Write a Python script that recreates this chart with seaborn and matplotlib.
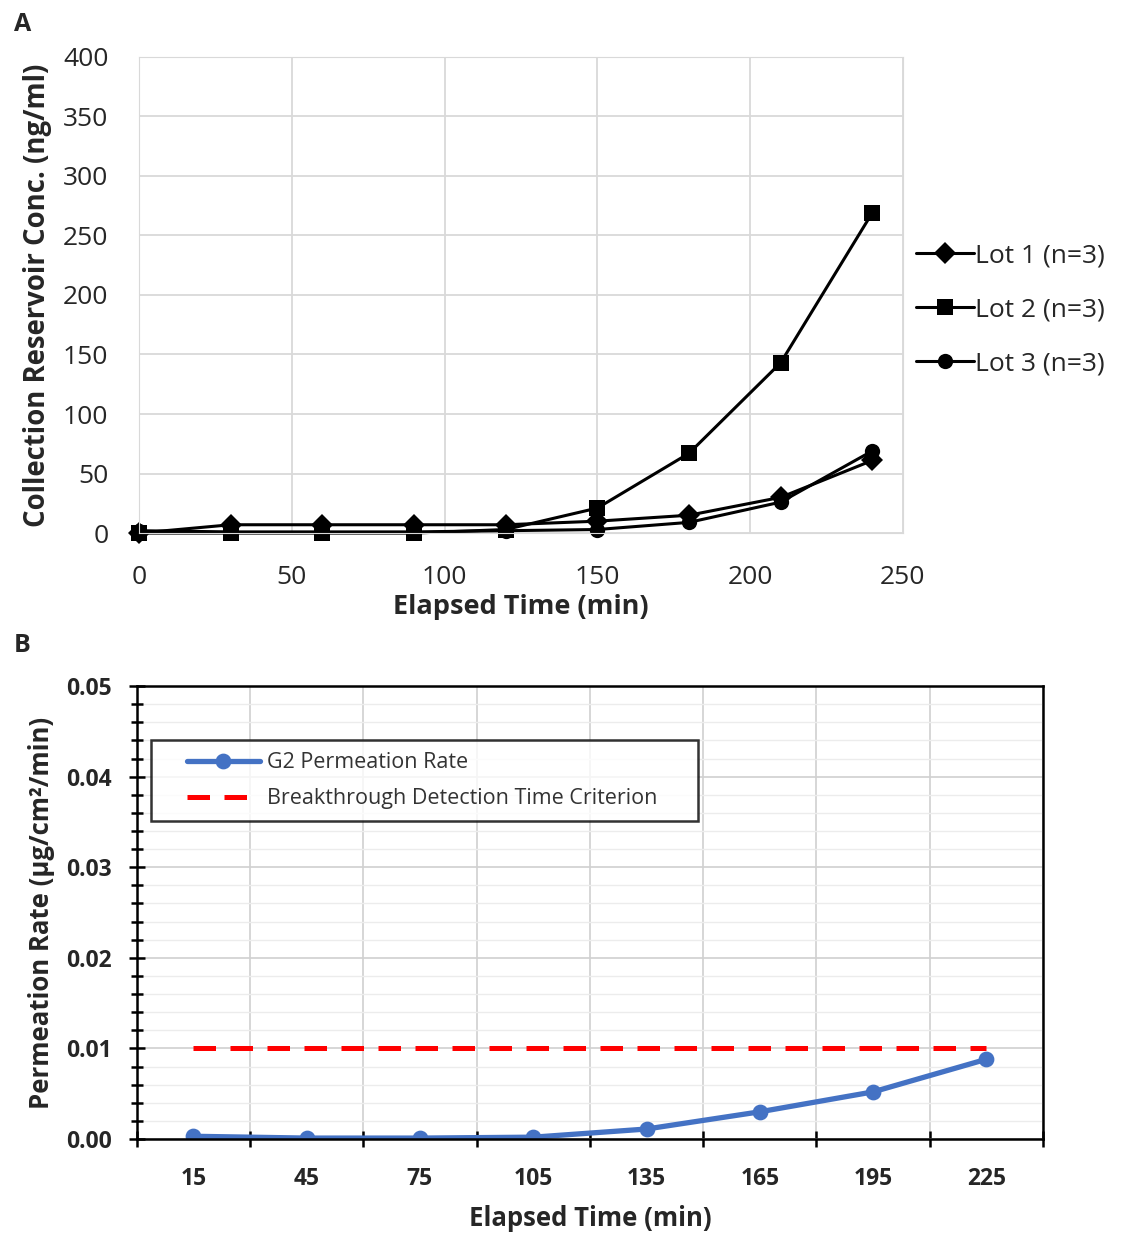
import seaborn as sns
import pandas as pd
import matplotlib.pyplot as plt
from matplotlib.ticker import MultipleLocator
from matplotlib.legend_handler import HandlerLine2D

# panel A data
time_a = [0, 30, 60, 90, 120, 150, 180, 210, 240]
lot1 = [0, 7, 7, 7, 7, 10, 15, 30, 61]
lot2 = [0, 0, 0, 0, 3, 21, 67, 143, 269]
lot3 = [2, 1, 1, 1, 2, 3, 9, 26, 69]
lot_names = ['Lot 1 (n=3)', 'Lot 2 (n=3)', 'Lot 3 (n=3)']

# panel B data
time_b = ['15', '45', '75', '105', '135', '165', '195', '225']
g2_rate = [0.0003, 0.0001, 0.0001, 0.0002, 0.0011, 0.0030, 0.0052, 0.0088]
criterion = [0.01] * 8

sns.set_style('white')
plt.rcParams['font.family'] = ['Open Sans', 'DejaVu Sans']

fig = plt.figure(figsize=(11.3, 12.34), dpi=100)

# ---- panel A
axA = fig.add_axes([0.123, 0.568, 0.676, 0.386])
dfA = pd.DataFrame({'time': time_a * 3,
                    'conc': lot1 + lot2 + lot3,
                    'Lot': [n for n in lot_names for _ in time_a]})
sns.lineplot(data=dfA, x='time', y='conc', hue='Lot', style='Lot',
             palette=['black'] * 3, markers=['D', 's', 'o'], dashes=False,
             markersize=11, linewidth=2.2, markeredgewidth=0,
             clip_on=False, ax=axA)
axA.set_xlim(0, 250)
axA.set_ylim(0, 400)
axA.xaxis.set_major_locator(MultipleLocator(50))
axA.yaxis.set_major_locator(MultipleLocator(50))
axA.grid(True, color='#d9d9d9', linewidth=1.3)
for s in axA.spines.values():
    s.set_color('#d9d9d9')
axA.tick_params(axis='x', length=0, labelsize=19, pad=23)
axA.tick_params(axis='y', length=0, labelsize=19, pad=22)
axA.set_xlabel('Elapsed Time (min)', fontsize=19.5, fontweight='bold', labelpad=3)
axA.set_ylabel('Collection Reservoir Conc. (ng/ml)', fontsize=19.8,
               fontweight='bold', labelpad=8)
axA.legend(loc='center left', bbox_to_anchor=(1.0, 0.468), frameon=False,
           fontsize=19, handlelength=2.2, handletextpad=0.05,
           labelspacing=1.1, markerscale=1.0, borderaxespad=0.1)
fig.text(0.012, 0.975, 'A', fontsize=18, fontweight='bold')

# ---- panel B
axB = fig.add_axes([0.121, 0.077, 0.802, 0.367])
sns.pointplot(x=time_b, y=criterion, color='#ff0000', markers='',
              linestyles='--', linewidth=3.6, dashes=(4.5, 2.9),
              label='Breakthrough Detection Time Criterion', ax=axB)
sns.pointplot(x=time_b, y=g2_rate, color='#4472c4', markers='o',
              linestyles='-', linewidth=3.8, markersize=8.5,
              label='G2 Permeation Rate', ax=axB)
axB.set_xlim(-0.5, 7.5)
axB.set_ylim(0, 0.05)
axB.yaxis.set_major_locator(MultipleLocator(0.01))
axB.yaxis.set_minor_locator(MultipleLocator(0.002))
axB.yaxis.set_major_formatter(plt.FormatStrFormatter('%.2f'))
axB.set_xticks(range(8))
axB.set_xticklabels(time_b)
axB.set_xticks([i - 0.5 for i in range(9)], minor=True)
axB.grid(True, which='major', axis='y', color='#d0d0d0', linewidth=1.2)
axB.grid(True, which='minor', axis='y', color='#ececec', linewidth=1.0)
axB.grid(True, which='minor', axis='x', color='#d0d0d0', linewidth=1.2)
axB.grid(False, which='major', axis='x')
for s in axB.spines.values():
    s.set_color('black')
    s.set_linewidth(1.8)
axB.tick_params(axis='x', which='major', length=0, pad=20)
axB.tick_params(axis='x', which='minor', direction='inout', length=12,
                width=1.8, color='black', bottom=True)
axB.tick_params(axis='y', which='major', direction='inout', length=12,
                width=1.8, color='black', left=True, pad=12)
axB.tick_params(axis='y', which='minor', direction='inout', length=9,
                width=1.8, color='black', left=True)
for lab in axB.get_xticklabels() + axB.get_yticklabels():
    lab.set_fontsize(16.5)
    lab.set_fontweight('bold')
axB.set_xlabel('Elapsed Time (min)', fontsize=18.5, fontweight='bold', labelpad=10)
axB.set_ylabel('Permeation Rate (\u00b5g/cm\u00b2/min)', fontsize=18.5,
               fontweight='bold', labelpad=8)
h, l = axB.get_legend_handles_labels()
h, l = h[::-1], l[::-1]
l = [t + '     ' for t in l]
hmap = {hh: HandlerLine2D(xpad=1.1) for hh in h}
leg = axB.legend(h, l, loc='upper left', bbox_to_anchor=(0.016, 0.88),
                 fontsize=15.5, frameon=True, fancybox=False, edgecolor='black',
                 handlelength=4.5, borderpad=0.55, labelspacing=0.7,
                 handletextpad=0.35, borderaxespad=0, handler_map=hmap)
leg.get_frame().set_linewidth(1.8)
for t in leg.get_texts():
    t.set_color('#333333')
fig.text(0.012, 0.472, 'B', fontsize=18, fontweight='bold')

fig.savefig('out.png', dpi=100)
